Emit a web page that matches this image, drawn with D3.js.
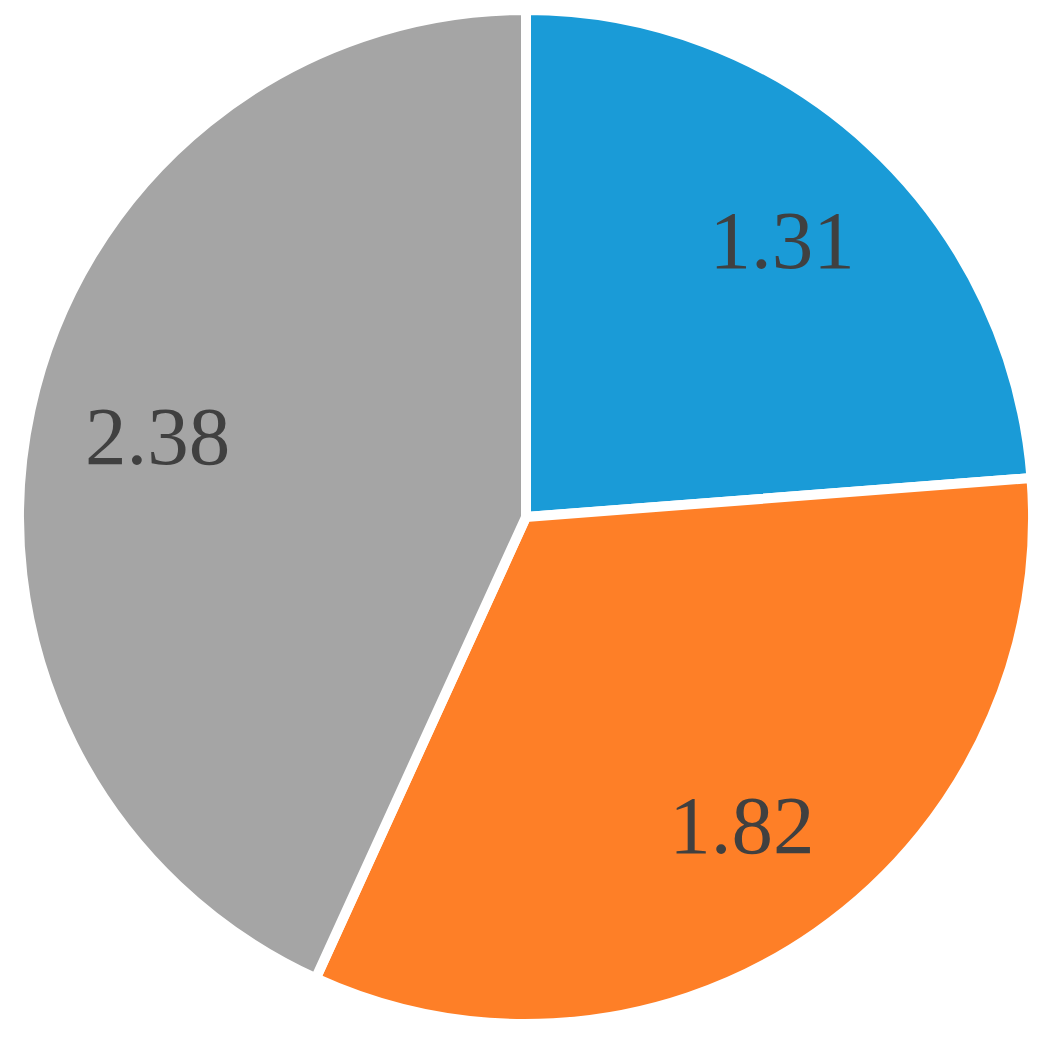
<!DOCTYPE html>
<html lang="en">
<head>
    <meta charset="UTF-8">
    <title>Pie</title>
    <style>
        body { margin: 0; background: #ffffff; }
        text {
            font-family: "Liberation Serif", "DejaVu Serif", serif;
            font-size: 83px;
            fill: #404040;
        }
    </style>
</head>
<body>
<div id="my_dataviz"></div>

<script src="https://d3js.org/d3.v7.min.js"></script>
<script>
    // slice values, clockwise from 12 o'clock
    var values = [1.31, 1.82, 2.38];
    var colors = ["#1a9bd7", "#fe7f27", "#a5a5a5"];

    var width = 1056;
    var height = 1040;
    var cx = 526, cy = 517, radius = 507;

    var svg = d3.select("#my_dataviz")
        .append("svg")
        .attr("width", width)
        .attr("height", height)
        .append("g")
        .attr("transform", "translate(" + cx + "," + cy + ")");

    var pie = d3.pie().sort(null).value(function (d) { return d; });
    var arcs = pie(values);

    var arc = d3.arc().innerRadius(0).outerRadius(radius);
    var labelArc = d3.arc().innerRadius(377).outerRadius(377);

    svg.selectAll("path")
        .data(arcs)
        .enter()
        .append("path")
        .attr("d", arc)
        .attr("fill", function (d, i) { return colors[i]; })
        .attr("stroke", "#ffffff")
        .attr("stroke-width", 10)
        .attr("stroke-linejoin", "miter");

    svg.selectAll("text")
        .data(arcs)
        .enter()
        .append("text")
        .attr("transform", function (d) {
            var c = labelArc.centroid(d);
            return "translate(" + c[0] + "," + c[1] + ")";
        })
        .attr("text-anchor", "middle")
        .attr("dy", "0.33em")
        .text(function (d) { return d.data.toFixed(2); });
</script>
</body>
</html>
